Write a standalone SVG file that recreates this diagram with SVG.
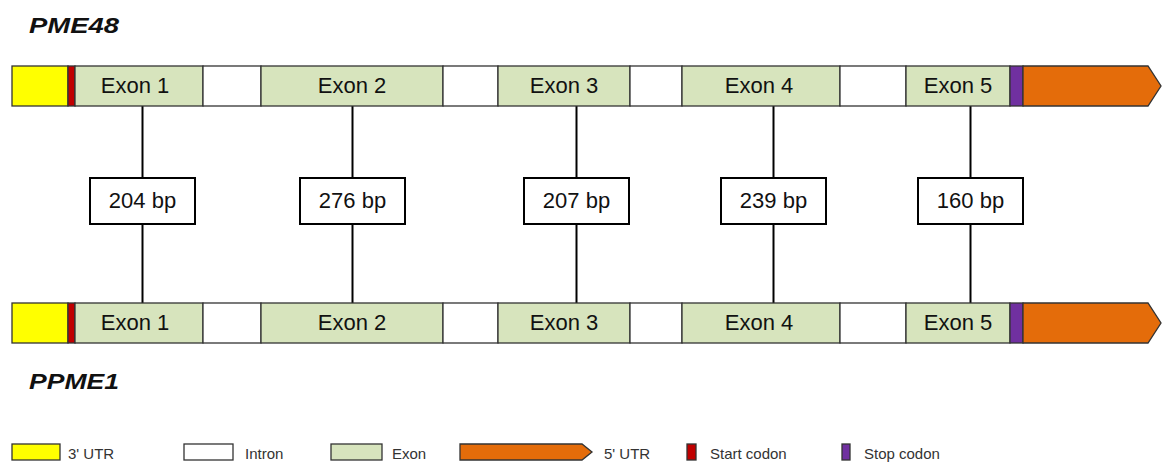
<svg xmlns="http://www.w3.org/2000/svg" width="1162" height="463" viewBox="0 0 1162 463">
<style>
text{font-family:"Liberation Sans",Arial,sans-serif;fill:#111}
.seg{stroke:#333;stroke-width:1.3}
.utr3{fill:#ffff00}
.start{fill:#c00000}
.exon{fill:#d7e4bd}
.intron{fill:#fff}
.stop{fill:#7030a0}
.utr5{fill:#e46c0a}
.lbl{font-size:22px;text-anchor:middle}
.title{font-size:22px;font-weight:bold;font-style:italic}
.bp{fill:#fff;stroke:#000;stroke-width:2}
.conn line{stroke:#000;stroke-width:2}
.leg{font-size:15px;fill:#333}
</style>
<text class="title" x="29" y="33" textLength="90" lengthAdjust="spacingAndGlyphs">PME48</text>
<text class="title" x="29" y="389" textLength="90" lengthAdjust="spacingAndGlyphs">PPME1</text>

<g id="connectors" class="conn">
<line x1="142.5" y1="106" x2="142.5" y2="303"/>
<line x1="352.5" y1="106" x2="352.5" y2="303"/>
<line x1="576.5" y1="106" x2="576.5" y2="303"/>
<line x1="773.5" y1="106" x2="773.5" y2="303"/>
<line x1="970.5" y1="106" x2="970.5" y2="303"/>
</g>

<g id="gene-PME48">
<rect class="seg utr3" x="12" y="66" width="56" height="40"/>
<rect class="seg start" x="68" y="66" width="7" height="40"/>
<rect class="seg exon" x="75" y="66" width="128" height="40"/>
<rect class="seg intron" x="203" y="66" width="58" height="40"/>
<rect class="seg exon" x="261" y="66" width="182" height="40"/>
<rect class="seg intron" x="443" y="66" width="55" height="40"/>
<rect class="seg exon" x="498" y="66" width="132" height="40"/>
<rect class="seg intron" x="630" y="66" width="52" height="40"/>
<rect class="seg exon" x="682" y="66" width="158" height="40"/>
<rect class="seg intron" x="840" y="66" width="66" height="40"/>
<rect class="seg exon" x="906" y="66" width="104" height="40"/>
<rect class="seg stop" x="1010" y="66" width="13" height="40"/>
<polygon class="seg utr5" points="1023,66 1148,66 1161,86 1148,106 1023,106"/>
<text class="lbl" x="135" y="93">Exon 1</text>
<text class="lbl" x="352" y="93">Exon 2</text>
<text class="lbl" x="564" y="93">Exon 3</text>
<text class="lbl" x="759" y="93">Exon 4</text>
<text class="lbl" x="958" y="93">Exon 5</text>
</g>

<g id="gene-PPME1">
<rect class="seg utr3" x="12" y="303" width="56" height="40"/>
<rect class="seg start" x="68" y="303" width="7" height="40"/>
<rect class="seg exon" x="75" y="303" width="128" height="40"/>
<rect class="seg intron" x="203" y="303" width="58" height="40"/>
<rect class="seg exon" x="261" y="303" width="182" height="40"/>
<rect class="seg intron" x="443" y="303" width="55" height="40"/>
<rect class="seg exon" x="498" y="303" width="132" height="40"/>
<rect class="seg intron" x="630" y="303" width="52" height="40"/>
<rect class="seg exon" x="682" y="303" width="158" height="40"/>
<rect class="seg intron" x="840" y="303" width="66" height="40"/>
<rect class="seg exon" x="906" y="303" width="104" height="40"/>
<rect class="seg stop" x="1010" y="303" width="13" height="40"/>
<polygon class="seg utr5" points="1023,303 1148,303 1161,323 1148,343 1023,343"/>
<text class="lbl" x="135" y="330">Exon 1</text>
<text class="lbl" x="352" y="330">Exon 2</text>
<text class="lbl" x="564" y="330">Exon 3</text>
<text class="lbl" x="759" y="330">Exon 4</text>
<text class="lbl" x="958" y="330">Exon 5</text>
</g>

<g id="box-204"><rect class="bp" x="90" y="178" width="105" height="46"/><text class="lbl" x="142.5" y="208">204 bp</text></g>
<g id="box-276"><rect class="bp" x="300" y="178" width="105" height="46"/><text class="lbl" x="352.5" y="208">276 bp</text></g>
<g id="box-207"><rect class="bp" x="524" y="178" width="105" height="46"/><text class="lbl" x="576.5" y="208">207 bp</text></g>
<g id="box-239"><rect class="bp" x="721" y="178" width="105" height="46"/><text class="lbl" x="773.5" y="208">239 bp</text></g>
<g id="box-160"><rect class="bp" x="918" y="178" width="105" height="46"/><text class="lbl" x="970.5" y="208">160 bp</text></g>

<g id="legend">
<rect class="seg utr3" x="12" y="444" width="48" height="16"/>
<text class="leg" x="68" y="459">3' UTR</text>
<rect class="seg intron" x="184" y="444" width="49" height="16"/>
<text class="leg" x="245" y="459">Intron</text>
<rect class="seg exon" x="331" y="444" width="51" height="16"/>
<text class="leg" x="392" y="459">Exon</text>
<polygon class="seg utr5" points="460,444 582,444 592,452 582,460 460,460"/>
<text class="leg" x="604" y="459">5' UTR</text>
<rect class="seg start" x="687" y="444" width="9" height="16"/>
<text class="leg" x="710" y="459">Start codon</text>
<rect class="seg stop" x="842" y="444" width="8" height="16"/>
<text class="leg" x="864" y="459">Stop codon</text>
</g>
</svg>
